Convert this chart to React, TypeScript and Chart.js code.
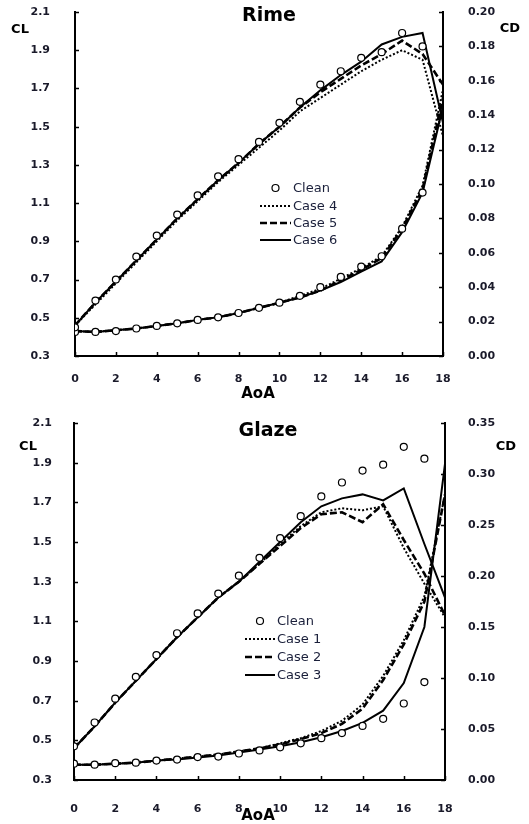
import React, { useEffect, useRef } from 'react';
import { Chart, registerables } from 'chart.js';
Chart.register(...registerables);

// ---------- data ----------
const AOA = [0, 1, 2, 3, 4, 5, 6, 7, 8, 9, 10, 11, 12, 13, 14, 15, 16, 17, 18];

// Rime
const rimeCleanCL = [0.45, 0.59, 0.70, 0.82, 0.93, 1.04, 1.14, 1.24, 1.33, 1.42, 1.52, 1.63, 1.72, 1.79, 1.86, 1.89, 1.99, 1.92];
const rimeCleanCD = [0.014, 0.014, 0.0145, 0.016, 0.0175, 0.019, 0.021, 0.0225, 0.025, 0.028, 0.031, 0.035, 0.040, 0.046, 0.052, 0.058, 0.074, 0.095];
const rimeCase4CL = [0.46, 0.57, 0.68, 0.79, 0.90, 1.01, 1.11, 1.21, 1.30, 1.39, 1.48, 1.58, 1.65, 1.72, 1.79, 1.85, 1.90, 1.85, 1.45];
const rimeCase5CL = [0.46, 0.58, 0.69, 0.80, 0.91, 1.02, 1.12, 1.22, 1.31, 1.41, 1.50, 1.60, 1.68, 1.75, 1.82, 1.88, 1.95, 1.88, 1.72];
const rimeCase6CL = [0.46, 0.58, 0.69, 0.80, 0.91, 1.02, 1.12, 1.22, 1.31, 1.41, 1.50, 1.60, 1.69, 1.77, 1.84, 1.93, 1.97, 1.99, 1.52];
const rimeCase4CD = [0.0145, 0.014, 0.015, 0.016, 0.0175, 0.019, 0.021, 0.0225, 0.025, 0.028, 0.031, 0.035, 0.039, 0.045, 0.051, 0.058, 0.075, 0.099, 0.155];
const rimeCase5CD = [0.0145, 0.014, 0.015, 0.016, 0.0175, 0.019, 0.021, 0.0225, 0.025, 0.028, 0.031, 0.034, 0.038, 0.044, 0.050, 0.057, 0.074, 0.097, 0.150];
const rimeCase6CD = [0.0145, 0.014, 0.015, 0.016, 0.0175, 0.019, 0.021, 0.0225, 0.025, 0.028, 0.031, 0.034, 0.038, 0.043, 0.049, 0.055, 0.072, 0.095, 0.145];

// Glaze
const glazeCleanCL = [0.47, 0.59, 0.71, 0.82, 0.93, 1.04, 1.14, 1.24, 1.33, 1.42, 1.52, 1.63, 1.73, 1.80, 1.86, 1.89, 1.98, 1.92];
const glazeCleanCD = [0.016, 0.015, 0.0165, 0.017, 0.019, 0.020, 0.0225, 0.023, 0.026, 0.029, 0.032, 0.036, 0.041, 0.046, 0.053, 0.060, 0.075, 0.096];
const glazeCase1CL = [0.46, 0.57, 0.69, 0.80, 0.91, 1.02, 1.12, 1.22, 1.30, 1.39, 1.49, 1.58, 1.65, 1.67, 1.66, 1.68, 1.47, 1.29, 1.12];
const glazeCase2CL = [0.46, 0.57, 0.69, 0.80, 0.91, 1.02, 1.12, 1.22, 1.30, 1.39, 1.48, 1.57, 1.64, 1.65, 1.60, 1.69, 1.51, 1.34, 1.13];
const glazeCase3CL = [0.46, 0.57, 0.69, 0.80, 0.91, 1.02, 1.12, 1.22, 1.30, 1.40, 1.50, 1.60, 1.68, 1.72, 1.74, 1.71, 1.77, 1.49, 1.22];
const glazeCase1CD = [0.015, 0.015, 0.016, 0.017, 0.019, 0.021, 0.023, 0.025, 0.028, 0.031, 0.036, 0.041, 0.048, 0.058, 0.074, 0.102, 0.137, 0.180, 0.280];
const glazeCase2CD = [0.015, 0.015, 0.016, 0.017, 0.019, 0.021, 0.023, 0.025, 0.028, 0.031, 0.035, 0.040, 0.046, 0.055, 0.070, 0.098, 0.133, 0.175, 0.280];
const glazeCase3CD = [0.015, 0.015, 0.016, 0.017, 0.019, 0.020, 0.022, 0.024, 0.027, 0.030, 0.033, 0.037, 0.042, 0.048, 0.056, 0.068, 0.095, 0.150, 0.310];

const rimeCaseNames = ['Case 4', 'Case 5', 'Case 6'];
const glazeCaseNames = ['Case 1', 'Case 2', 'Case 3'];

// ---------- styling ----------
const FONT = '"DejaVu Sans", Verdana, sans-serif';
const W = 529;
const H = 412;

const caseStyles = [
  { dash: [2, 2], width: 2 },
  { dash: [7, 3], width: 2.6 },
  { dash: [], width: 2 },
];

type Panel = {
  title: string;
  cleanCL: number[];
  cleanCD: number[];
  casesCL: number[][];
  casesCD: number[][];
  names: string[];
  cdMax: number;
  cdStep: number;
  padTop: number;
  leftW: number;
  rightW: number;
  bottomH: number;
  titlePos: [number, number];
  clPos: [number, number];
  cdPos: [number, number];
  aoaPos: [number, number];
  legLine: [number, number];
  legTextX: number;
  legY: number[];
  leftPad: number;
  rightPad: number;
  xPad: number;
};

const panels: Panel[] = [
  {
    title: 'Rime',
    cleanCL: rimeCleanCL,
    cleanCD: rimeCleanCD,
    casesCL: [rimeCase4CL, rimeCase5CL, rimeCase6CL],
    casesCD: [rimeCase4CD, rimeCase5CD, rimeCase6CD],
    names: rimeCaseNames,
    cdMax: 0.2,
    cdStep: 0.02,
    padTop: 12,
    leftW: 75,
    rightW: W - 443,
    bottomH: H - 356,
    titlePos: [269, 16],
    clPos: [20, 30],
    cdPos: [510, 29],
    aoaPos: [258, 394],
    legLine: [260, 291],
    legTextX: 293,
    legY: [188, 206, 223, 240],
    leftPad: 17,
    rightPad: 17,
    xPad: 9,
  },
  {
    title: 'Glaze',
    cleanCL: glazeCleanCL,
    cleanCD: glazeCleanCD,
    casesCL: [glazeCase1CL, glazeCase2CL, glazeCase3CL],
    casesCD: [glazeCase1CD, glazeCase2CD, glazeCase3CD],
    names: glazeCaseNames,
    cdMax: 0.35,
    cdStep: 0.05,
    padTop: 11,
    leftW: 74,
    rightW: W - 445,
    bottomH: H - 368,
    titlePos: [268, 19],
    clPos: [28, 35],
    cdPos: [506, 35],
    aoaPos: [258, 404],
    legLine: [245, 275],
    legTextX: 277,
    legY: [209, 227, 245, 263],
    leftPad: 14,
    rightPad: 15,
    xPad: 15,
  },
];

function makeDecor(p: Panel) {
  return {
    id: 'decor_' + p.title,
    afterDraw(chart: any) {
      const ctx = chart.ctx as CanvasRenderingContext2D;
      const area = chart.chartArea;
      const xs = chart.scales.x;
      const ys = chart.scales.y;
      const y1 = chart.scales.y1;
      ctx.save();
      // inner tick marks
      ctx.strokeStyle = '#000';
      ctx.lineWidth = 1.5;
      ctx.beginPath();
      xs.ticks.forEach((t: any) => {
        const px = Math.round(xs.getPixelForValue(t.value)) + 0.5;
        ctx.moveTo(px, area.bottom);
        ctx.lineTo(px, area.bottom - 4);
      });
      ys.ticks.forEach((t: any) => {
        const py = Math.round(ys.getPixelForValue(t.value)) + 0.5;
        ctx.moveTo(area.left, py);
        ctx.lineTo(area.left + 4, py);
      });
      y1.ticks.forEach((t: any) => {
        const py = Math.round(y1.getPixelForValue(t.value)) + 0.5;
        ctx.moveTo(area.right, py);
        ctx.lineTo(area.right - 4, py);
      });
      ctx.stroke();

      // title and axis names
      ctx.fillStyle = '#000';
      ctx.textAlign = 'center';
      ctx.textBaseline = 'middle';
      ctx.font = 'bold 19px ' + FONT;
      ctx.fillText(p.title, p.titlePos[0], p.titlePos[1]);
      ctx.font = 'bold 13px ' + FONT;
      ctx.fillText('CL', p.clPos[0], p.clPos[1]);
      ctx.fillText('CD', p.cdPos[0], p.cdPos[1]);
      ctx.font = 'bold 15px ' + FONT;
      ctx.fillText('AoA', p.aoaPos[0], p.aoaPos[1]);

      // legend
      const labels = ['Clean', ...p.names];
      ctx.font = '13px ' + FONT;
      ctx.textAlign = 'left';
      labels.forEach((lab, i) => {
        const y = p.legY[i];
        ctx.strokeStyle = '#000';
        if (i === 0) {
          ctx.beginPath();
          ctx.setLineDash([]);
          ctx.lineWidth = 1.2;
          ctx.fillStyle = '#fff';
          ctx.arc((p.legLine[0] + p.legLine[1]) / 2, y, 3.5, 0, Math.PI * 2);
          ctx.fill();
          ctx.stroke();
        } else {
          const st = caseStyles[i - 1];
          ctx.beginPath();
          ctx.setLineDash(st.dash);
          ctx.lineWidth = st.width;
          ctx.moveTo(p.legLine[0], y);
          ctx.lineTo(p.legLine[1], y);
          ctx.stroke();
          ctx.setLineDash([]);
        }
        ctx.fillStyle = '#1a1f3a';
        ctx.fillText(lab, p.legTextX, y + 1);
      });
      ctx.restore();
    },
  };
}

function buildChart(canvas: HTMLCanvasElement, p: Panel) {
  const pts = (arr: number[]) => arr.map((v, i) => ({ x: AOA[i], y: v }));
  const cleanStyle = {
    showLine: false,
    pointRadius: 3.5,
    pointBackgroundColor: '#fff',
    pointBorderColor: '#000',
    pointBorderWidth: 1.2,
    borderColor: '#000',
    backgroundColor: '#fff',
  };
  const datasets: any[] = [
    { label: 'Clean', data: pts(p.cleanCL), yAxisID: 'y', ...cleanStyle },
    { label: 'Clean CD', data: pts(p.cleanCD), yAxisID: 'y1', ...cleanStyle },
  ];
  p.names.forEach((name, k) => {
    const st = caseStyles[k];
    const lineStyle = {
      showLine: true,
      pointRadius: 0,
      borderColor: '#000',
      backgroundColor: '#000',
      borderWidth: st.width,
      borderDash: st.dash,
      tension: 0,
      fill: false,
    };
    datasets.push({ label: name, data: pts(p.casesCL[k]), yAxisID: 'y', ...lineStyle });
    datasets.push({ label: name + ' CD', data: pts(p.casesCD[k]), yAxisID: 'y1', ...lineStyle });
  });

  const tickFont = { family: FONT, size: 11, weight: 'bold' as const };
  const tickColor = '#1a1a2a';
  const vFit = (w: number) => (s: any) => {
    s.width = w;
    s.paddingTop = 0;
    s.paddingBottom = 0;
  };
  return new Chart(canvas, {
    type: 'scatter',
    data: { datasets },
    options: {
      animation: false,
      responsive: false,
      layout: { padding: { top: p.padTop, left: 0, right: 0, bottom: 0 } },
      plugins: { legend: { display: false }, tooltip: { enabled: false }, title: { display: false } },
      scales: {
        x: {
          type: 'linear',
          position: 'bottom',
          min: 0,
          max: 18,
          ticks: { stepSize: 2, font: tickFont, color: tickColor, padding: p.xPad, maxRotation: 0 },
          grid: { display: false },
          border: { display: true, color: '#000', width: 2 },
          afterFit: (s: any) => {
            s.height = p.bottomH;
            s.paddingLeft = 0;
            s.paddingRight = 0;
          },
        },
        y: {
          type: 'linear',
          position: 'left',
          min: 0.3,
          max: 2.1,
          ticks: { stepSize: 0.2, font: tickFont, color: tickColor, padding: p.leftPad, callback: (v: any) => Number(v).toFixed(1) },
          grid: { display: false },
          border: { display: true, color: '#000', width: 2 },
          afterFit: vFit(p.leftW),
        },
        y1: {
          type: 'linear',
          position: 'right',
          min: 0,
          max: p.cdMax,
          ticks: { stepSize: p.cdStep, font: tickFont, color: tickColor, padding: p.rightPad, callback: (v: any) => Number(v).toFixed(2) },
          grid: { display: false },
          border: { display: true, color: '#000', width: 2 },
          afterFit: vFit(p.rightW),
        },
      },
    } as any,
    plugins: [makeDecor(p)],
  });
}

function PanelChart({ p }: { p: Panel }) {
  const ref = useRef<HTMLCanvasElement | null>(null);
  useEffect(() => {
    if (!ref.current) return;
    const c = buildChart(ref.current, p);
    return () => c.destroy();
  }, [p]);
  return <canvas ref={ref} width={W} height={H} style={{ display: 'block', width: W, height: H }} />;
}

export default function App() {
  return (
    <div style={{ position: 'absolute', left: 0, top: 0, width: W, height: 824, background: '#fff' }}>
      {panels.map((p) => (
        <PanelChart key={p.title} p={p} />
      ))}
    </div>
  );
}
